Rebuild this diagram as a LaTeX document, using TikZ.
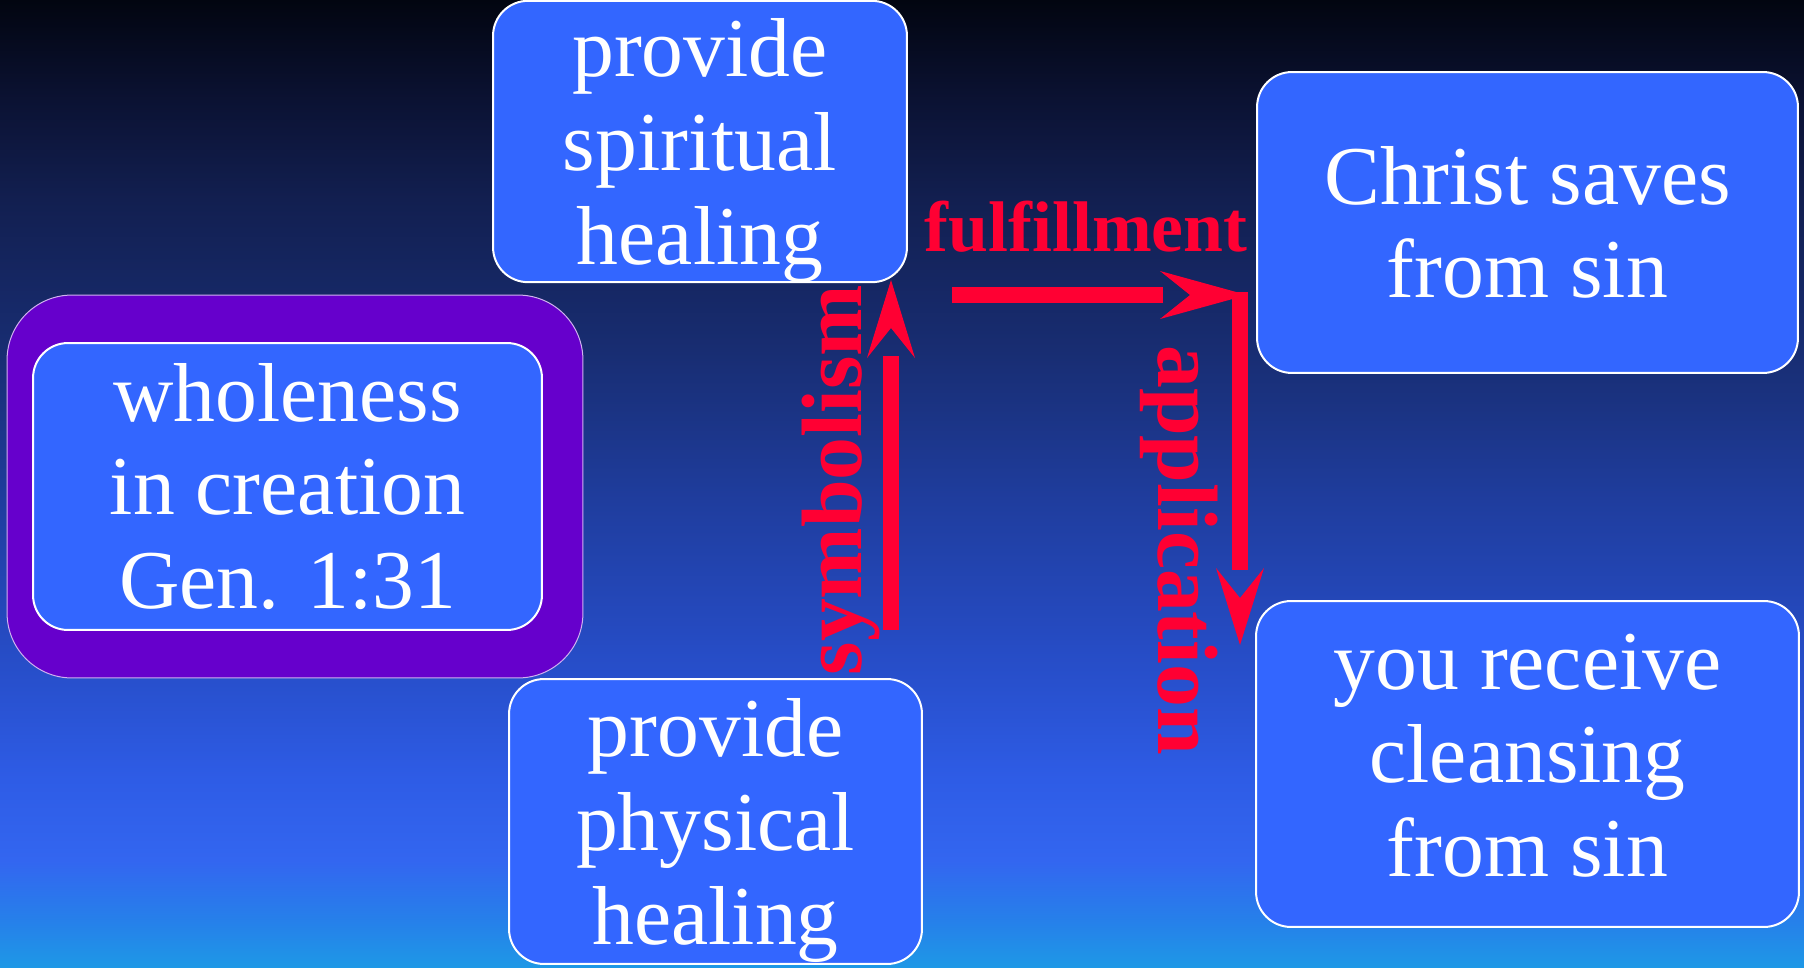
\documentclass[tikz,border=0pt]{standalone}
\usepackage{fontspec}
\setmainfont{Liberation Serif}
\usetikzlibrary{positioning,calc}
\definecolor{boxblue}{HTML}{3366FF}
\definecolor{rimpurple}{HTML}{6600CC}
\definecolor{arrowred}{HTML}{FF0033}
\definecolor{skyA}{HTML}{1E98E6}
\definecolor{skyB}{HTML}{2680EA}
\definecolor{skyC}{HTML}{3366F0}
\definecolor{skyD}{HTML}{2E5CE6}
\definecolor{skyE}{HTML}{264CC5}
\definecolor{skyF}{HTML}{1F3D9E}
\definecolor{skyG}{HTML}{182D72}
\definecolor{skyH}{HTML}{121F50}
\definecolor{skyI}{HTML}{0B1233}
\definecolor{skyJ}{HTML}{020510}
\pgfdeclareverticalshading{sky}{100bp}{color(0bp)=(skyA); color(25bp)=(skyA);
    color(27.4bp)=(skyB); color(30.5bp)=(skyC); color(34.7bp)=(skyD);
    color(41.4bp)=(skyE); color(49.1bp)=(skyF); color(56.9bp)=(skyG);
    color(64.7bp)=(skyH); color(69.8bp)=(skyI); color(75bp)=(skyJ);
    color(100bp)=(skyJ)}
\newcommand{\toppad}{\rule{0pt}{1.52cm}}
\newcommand{\lowpad}{\rule[-0.36cm]{0pt}{0.36cm}}

\begin{document}
\begin{tikzpicture}[
    x=0.02cm, y=-0.02cm,
    card/.style={
        rectangle,
        rounded corners=0.7cm,
        fill=boxblue,
        draw=white,
        line width=0.04cm,
        inner sep=0pt,
        text=white,
        align=center,
        font=\fontsize{47.6}{53.3}\selectfont
    },
    rim/.style={
        rectangle,
        rounded corners=1.3cm,
        fill=rimpurple,
        draw=white!70!rimpurple,
        line width=0.02cm
    },
    size/.style 2 args={minimum width=#1, minimum height=#2},
    shaft/.style={draw=arrowred, line width=0.32cm},
    word/.style={
        text=arrowred,
        inner sep=0pt,
        font=\bfseries\fontsize{48.8}{50}\selectfont
    },
    pics/redhead/.style args={#1/#2}{
        code={
            \fill[arrowred] (0,0) -- (-#1,24) -- (-#2,0) -- (-#1,-24) -- cycle;
        }
    }
    ]
    \useasboundingbox (0,0) rectangle (1804,967);
    \fill[shading=sky] (0,0) rectangle (1804,967);

    \node[rim, size={11.52cm}{7.66cm}] (creation) at (295,486.5) {};
    \node[card, size={10.18cm}{5.74cm}] (wholeness) at (287.5,486.5)
        {wholeness\\in creation\\Gen. 1:31};
    \node[card, size={8.28cm}{5.42cm}] (spiritual) at (700,141.5)
        {\toppad provide\\spiritual\\healing};
    \node[card, size={8.26cm}{5.70cm}] (physical) at (715.5,821.5)
        {\toppad provide\\physical\\healing};
    \node[card, size={10.82cm}{6.02cm}] (christ) at (1527.5,222.5)
        {Christ saves\\from sin};
    \node[card, size={10.86cm}{6.52cm}] (receive) at (1527.5,764)
        {you receive\\cleansing\\from sin\lowpad};

    \coordinate (symFoot) at (891,630);
    \coordinate (symTip) at (891,280);
    \coordinate (fulFoot) at (952,295);
    \coordinate (fulTip) at (1247,295);
    \coordinate (appFoot) at (1240,292);
    \coordinate (appTip) at (1240,645);

    \draw[shaft] (symFoot) -- ($(symTip)+(0,76)$);
    \pic[rotate=90] at (symTip) {redhead=78/48};
    \draw[shaft] (fulFoot) -- ($(fulTip)+(-84,0)$);
    \pic at (fulTip) {redhead=87/57};
    \draw[shaft] (appFoot) -- ($(appTip)+(0,-75)$);
    \pic[rotate=-90] at (appTip) {redhead=77/47};

    \node[word, rotate=90, anchor=base] (symbolism) at (861,480) {symbolism};
    \node[word, anchor=base, font=\bfseries\fontsize{40.8}{42}\selectfont]
        (fulfillment) at (1086,251) {fulfillment};
    \node[word, rotate=-90, anchor=base] (application) at (1158,550) {application};
\end{tikzpicture}
\end{document}
